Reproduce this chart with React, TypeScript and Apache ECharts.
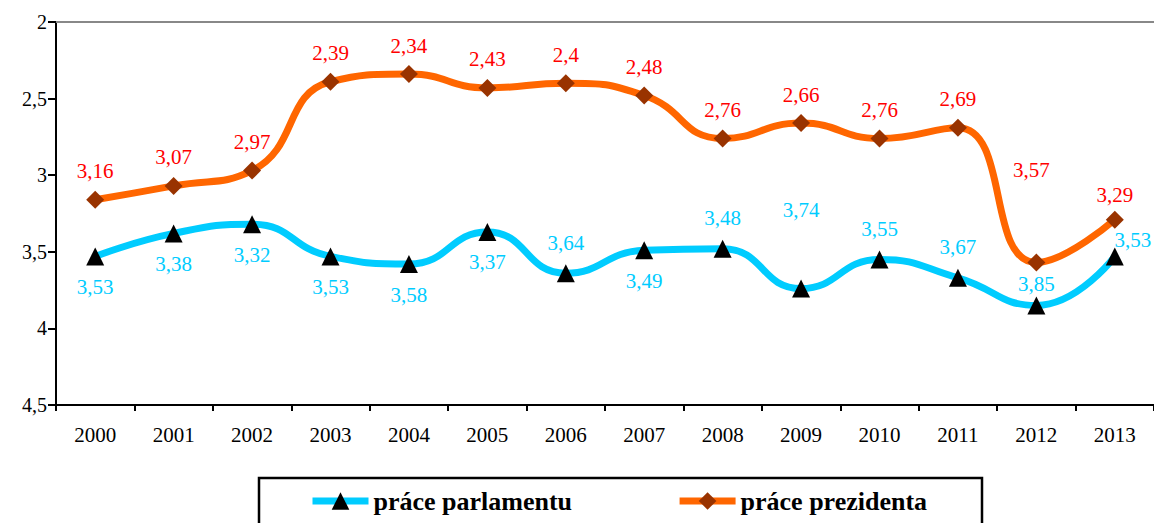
import React, { useEffect, useRef } from "react";
import * as echarts from "echarts";

const years = ["2000","2001","2002","2003","2004","2005","2006","2007","2008","2009","2010","2011","2012","2013"];
const parlament = [3.53, 3.38, 3.32, 3.53, 3.58, 3.37, 3.64, 3.49, 3.48, 3.74, 3.55, 3.67, 3.85, 3.53];
const prezident = [3.16, 3.07, 2.97, 2.39, 2.34, 2.43, 2.4, 2.48, 2.76, 2.66, 2.76, 2.69, 3.57, 3.29];
// label placement for parlament: "b" below, "t" above
const parlamentLabelPos = ["b","b","b","b","b","b","t","b","t","t","t","t","t","t"];
const seriesNames = ["práce parlamentu", "práce prezidenta"];

const FONT = "Liberation Serif";
const fmt = (v: number) => String(v).replace(".", ",");

export default function App() {
  const ref = useRef<HTMLDivElement>(null);
  useEffect(() => {
    const chart = echarts.init(ref.current!, null, { renderer: "svg" });
    const parlData = parlament.map((v, i) => {
      const below = parlamentLabelPos[i] === "b";
      const label: any = {
        position: below ? "bottom" : "top",
        distance: 11,
      };
      if (i === 9) label.offset = [0, -48];
      if (i === 12) label.offset = [0, 9];
      if (i === 13) label.offset = [18, 14];
      return { value: v, label };
    });
    const prezData = prezident.map((v, i) => {
      const label: any = { position: "top", distance: 9 };
      if (i === 12) label.offset = [-5, -64];
      if (i === 13) label.offset = [0, 4];
      return { value: v, label };
    });
    chart.setOption({
      animation: false,
      backgroundColor: "#ffffff",
      textStyle: { fontFamily: FONT },
      grid: { left: 56, right: -4, top: 22, bottom: 118, containLabel: false },
      legend: {
        left: 304,
        top: 483,
        itemWidth: 56,
        itemHeight: 22,
        itemGap: 104,
        itemStyle: { borderWidth: 0 },
        lineStyle: { width: 7 },
        textStyle: { fontFamily: FONT, fontSize: 26, fontWeight: "bold", color: "#000" },
        data: seriesNames,
      },
      graphic: [
        {
          type: "rect",
          shape: { x: 259, y: 478, width: 723, height: 70 },
          style: { fill: "none", stroke: "#000", lineWidth: 2.5 },
          silent: true,
        },
      ],
      xAxis: [
        {
          type: "category",
          data: years,
          boundaryGap: true,
          position: "bottom",
          axisLine: { lineStyle: { color: "#000", width: 2 } },
          axisTick: { show: true, length: 6, lineStyle: { color: "#000", width: 2 }, alignWithLabel: false },
          axisLabel: { color: "#000", fontSize: 21, fontFamily: FONT, margin: 19 },
          splitLine: { show: false },
        },
        {
          type: "category",
          data: years,
          position: "top",
          axisLine: { lineStyle: { color: "#888", width: 2 } },
          axisTick: { show: false },
          axisLabel: { show: false },
          splitLine: { show: false },
        },
      ],
      yAxis: {
        type: "value",
        inverse: true,
        min: 2,
        max: 4.5,
        interval: 0.5,
        axisLine: { show: true, lineStyle: { color: "#000", width: 2 } },
        axisTick: { show: true, length: 8, lineStyle: { color: "#000", width: 2 } },
        axisLabel: { color: "#000", fontSize: 20, fontFamily: FONT, margin: 9, formatter: (v: number) => fmt(v) },
        splitLine: { show: false },
      },
      series: [
        {
          name: seriesNames[0],
          type: "line",
          smooth: 0.5,
          data: parlData,
          symbol: "triangle",
          symbolSize: 18,
          itemStyle: { color: "#000000" },
          lineStyle: { color: "#00CCFF", width: 7 },
          label: {
            show: true,
            color: "#00CCFF",
            fontSize: 21,
            fontFamily: FONT,
            formatter: (p: any) => fmt(p.value),
          },
          z: 3,
        },
        {
          name: seriesNames[1],
          type: "line",
          smooth: 0.5,
          data: prezData,
          symbol: "diamond",
          symbolSize: 18,
          itemStyle: { color: "#993300" },
          lineStyle: { color: "#FF6600", width: 7 },
          label: {
            show: true,
            color: "#FF0000",
            fontSize: 21,
            fontFamily: FONT,
            formatter: (p: any) => fmt(p.value),
          },
          z: 4,
        },
      ],
    });
    return () => chart.dispose();
  }, []);
  return (
    <div
      ref={ref}
      style={{ position: "fixed", left: 0, top: 0, width: 1154, height: 523, background: "#fff" }}
    />
  );
}
